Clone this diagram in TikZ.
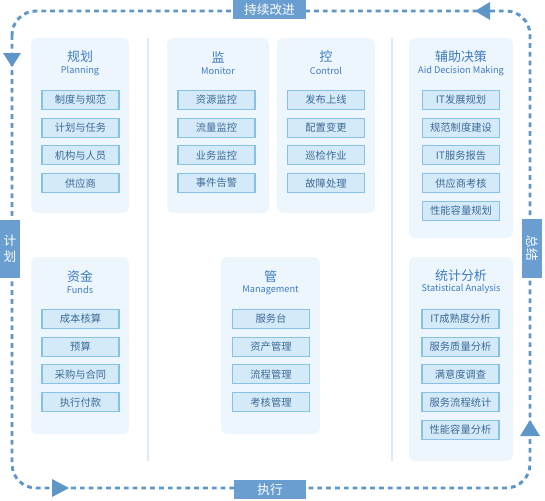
\documentclass[tikz,border=0pt]{standalone}
\usepackage{fontspec}
\setmainfont{Noto Sans CJK SC}
\usetikzlibrary{positioning}
\definecolor{loopblue}{HTML}{5E96CA}
\definecolor{tagblue}{HTML}{6A9ED1}
\definecolor{panelbg}{HTML}{EEF6FD}
\definecolor{sepblue}{HTML}{DCEAF7}
\definecolor{headblue}{HTML}{3D7CC0}
\definecolor{itemfill}{HTML}{D5EAF8}
\definecolor{itemline}{HTML}{88C1E6}
\definecolor{itemtext}{HTML}{3B6A98}
\tikzset{
  loopline/.style={draw=loopblue,line width=2.2pt,dash pattern=on 3.6pt off 3pt,rounded corners=18pt},
  looptag/.style={fill=tagblue,text=white,font=\fontsize{9.5}{11}\selectfont,inner sep=0pt},
  looptri/.style={fill=loopblue},
  panelbox/.style={fill=panelbg,rounded corners=4pt},
  sepline/.style={draw=sepblue,line width=1.1pt},
  itembox/.style={draw=itemline,fill=itemfill,line width=0.8pt,text=itemtext,
    font=\fontsize{7.7}{9}\selectfont,minimum width=57.75pt,minimum height=14.25pt,inner sep=0pt},
  headcn/.style={text=headblue,font=\fontsize{9.7}{11}\selectfont,inner sep=0pt},
  heading/.style={text=headblue,font=\fontsize{6.9}{8}\selectfont,inner sep=0pt}
}

\begin{document}
\begin{tikzpicture}[x=0.75pt,y=-0.75pt]
  \useasboundingbox (0,0) rectangle (545,500);

  % loop
  \draw[loopline] (12,11) rectangle (530,488);
  \fill[looptri] (490,2) -- (475,11) -- (490,20) -- cycle;
  \fill[looptri] (3,53) -- (12,67) -- (21,53) -- cycle;
  \fill[looptri] (52,479) -- (69,488) -- (52,497) -- cycle;
  \fill[looptri] (520,436) -- (530,420) -- (540,436) -- cycle;
  \node[looptag,minimum width=54.75pt,minimum height=14.25pt] at (269.5,9.5) (improve){持续改进};
  \node[looptag,minimum width=54pt,minimum height=14.25pt] at (270,489.5) (execute){执行};
  \node[looptag,minimum width=15pt,minimum height=43.5pt,align=center,
    font=\fontsize{9.5}{12}\selectfont] at (10,249) (plan){计\\划};
  \node[looptag,rotate=-90,minimum width=44pt,minimum height=15pt] at (532,248.5) (summary){总结};

  % panels
  \fill[panelbox] (31,38) rectangle (129,213);
  \fill[panelbox] (167,38) rectangle (269,213);
  \fill[panelbox] (277,38) rectangle (375,213);
  \fill[panelbox] (409,38) rectangle (513,238);
  \fill[panelbox] (31,257) rectangle (129,434);
  \fill[panelbox] (221,257) rectangle (320,434);
  \fill[panelbox] (409,257) rectangle (513,461);
  \draw[sepline] (148,38) -- (148,461);
  \draw[sepline] (392,38) -- (392,461);

  % titles
  \node[headcn] at (80,57) (plancn){规划};
  \node[heading] at (80,71) (planen){Planning};
  \node[headcn] at (218,57) (moncn){监};
  \node[heading] at (218,71) (monen){Monitor};
  \node[headcn] at (326,57) (ctrlcn){控};
  \node[heading] at (326,71) (ctrlen){Control};
  \node[headcn] at (461,57) (aidcn){辅助决策};
  \node[heading] at (461,71) (aiden){Aid Decision Making};
  \node[headcn] at (80,277) (fundcn){资金};
  \node[heading] at (80,290) (funden){Funds};
  \node[headcn] at (270.5,277) (mgmtcn){管};
  \node[heading] at (270.5,290) (mgmten){Management};
  \node[headcn] at (461,276) (statcn){统计分析};
  \node[heading] at (461,289) (staten){Statistical Analysis};

  % items
  \foreach \txt [count=\i from 0] in {制度与规范,计划与任务,机构与人员,供应商}
    \node[itembox] at (80.5,100+27.7*\i) (plan-\i){\txt};
  \foreach \txt [count=\i from 0] in {资源监控,流量监控,业务监控,事件告警}
    \node[itembox] at (216.5,100+27.7*\i) (mon-\i){\txt};
  \foreach \txt [count=\i from 0] in {发布上线,配置变更,巡检作业,故障处理}
    \node[itembox] at (326,100+27.7*\i) (ctrl-\i){\txt};
  \foreach \txt [count=\i from 0] in {IT发展规划,规范制度建设,IT服务报告,供应商考核,性能容量规划}
    \node[itembox] at (461,100+27.7*\i) (aid-\i){\txt};
  \foreach \txt [count=\i from 0] in {成本核算,预算,采购与合同,执行付款}
    \node[itembox] at (80.5,319+27.7*\i) (fund-\i){\txt};
  \foreach \txt [count=\i from 0] in {服务台,资产管理,流程管理,考核管理}
    \node[itembox] at (271,319+27.7*\i) (mgmt-\i){\txt};
  \foreach \txt [count=\i from 0] in {IT成熟度分析,服务质量分析,满意度调查,服务流程统计,性能容量分析}
    \node[itembox] at (460.5,319+27.7*\i) (stat-\i){\txt};
\end{tikzpicture}
\end{document}
